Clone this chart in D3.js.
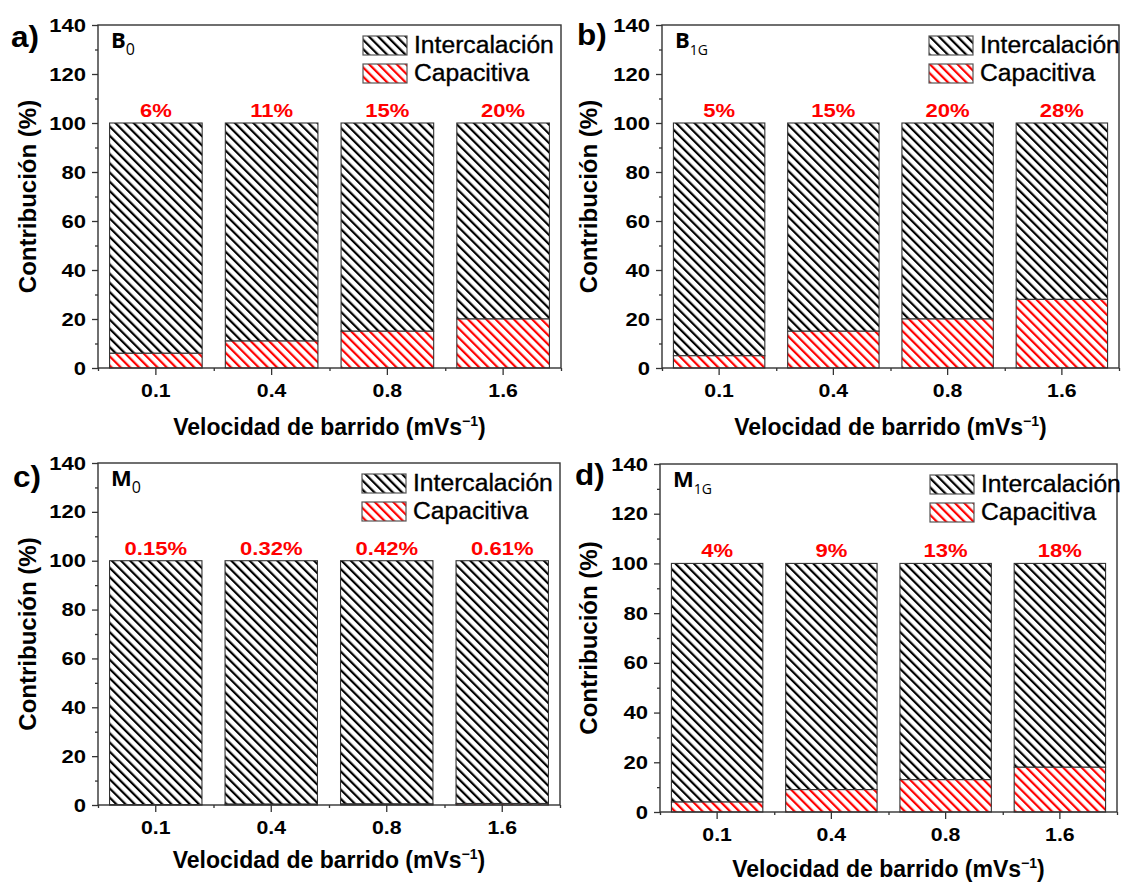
<!DOCTYPE html>
<html>
<head>
<meta charset="utf-8">
<script src="https://cdn.jsdelivr.net/npm/d3@7"></script>
<style>
  body { margin: 0; background: #fff; }
  svg { display: block; }
</style>
</head>
<body>
<script>
// ---- data ----
const rates = ["0.1", "0.4", "0.8", "1.6"];
const capB0  = [6, 11, 15, 20];
const capB1G = [5, 15, 20, 28];
const capM0  = [0.15, 0.32, 0.42, 0.61];
const capM1G = [4, 9, 13, 18];
const yTicks = [0, 20, 40, 60, 80, 100, 120, 140];
const yMinor = [10, 30, 50, 70, 90, 110, 130];
const seriesNames = ["Intercalación", "Capacitiva"];
const panelLetters = ["a)", "b)", "c)", "d)"];
const sampleBase = ["B", "B", "M", "M"];
const sampleSub = ["0", "1G", "0", "1G"];
const xTitle = "Velocidad de barrido (mVs";
const xTitleSup = "\u22121";
const yTitle = "Contribución (%)";
const total = 100;

// ---- layout ----
const W = 1125, H = 884;
const frames = [
  { x0: 98,  x1: 561,  y0: 25,  y1: 368, legX: 363, titleY: 435, yTitleX: 36,  letterX: 11,  letterY: 47,  cap: capB0 },
  { x0: 662, x1: 1119, y0: 25,  y1: 368, legX: 929, titleY: 435, yTitleX: 597, letterX: 577, letterY: 45,  cap: capB1G },
  { x0: 98,  x1: 560,  y0: 463, y1: 805, legX: 362, titleY: 868, yTitleX: 36,  letterX: 13,  letterY: 487, cap: capM0 },
  { x0: 660, x1: 1117, y0: 464, y1: 812, legX: 930, titleY: 877, yTitleX: 597, letterX: 575, letterY: 485, cap: capM1G }
];

const FONT = "'Liberation Sans', Arial, sans-serif";
const FRAME = "#333";
const RED = "#ff0000";

const svg = d3.select("body").append("svg").attr("width", W).attr("height", H);

// hatch patterns: diagonal stripes running top-left to bottom-right
const defs = svg.append("defs");
function hatch(id, color) {
  const p = defs.append("pattern")
    .attr("id", id)
    .attr("patternUnits", "userSpaceOnUse")
    .attr("width", 6.5).attr("height", 10)
    .attr("patternTransform", "rotate(-45)");
  p.append("rect").attr("width", 6.5).attr("height", 10).attr("fill", "#fff");
  p.append("rect").attr("x", 0).attr("width", 2.2).attr("height", 10).attr("fill", color);
}
hatch("hatchK", "#000");
hatch("hatchR", RED);

// horizontally stretched text helper
function label(g, x, y, str, o) {
  return g.append("text")
    .attr("transform", `translate(${x},${y}) scale(${o.sx || 1},1)`)
    .attr("text-anchor", o.anchor || "start")
    .style("font-family", o.family || FONT)
    .style("font-size", o.size + "px")
    .style("font-weight", o.weight || "bold")
    .attr("fill", o.fill || "#000")
    .attr("stroke", o.stroke || "none")
    .attr("stroke-width", o.strokeWidth || 0)
    .text(str);
}

frames.forEach((f, i) => {
  const g = svg.append("g");
  const x = d3.scaleBand().domain(rates).range([f.x0, f.x1]).paddingInner(0.2).paddingOuter(0.1);
  const y = d3.scaleLinear().domain([0, 140]).range([f.y1, f.y0]);
  const rows = rates.map((r, k) => ({ r, cap: f.cap[k] }));

  // stacked bars
  g.selectAll(".inter").data(rows).join("rect")
    .attr("x", d => x(d.r)).attr("width", x.bandwidth())
    .attr("y", y(total)).attr("height", d => y(d.cap) - y(total))
    .attr("fill", "url(#hatchK)").attr("stroke", FRAME).attr("stroke-width", 1.1);
  g.selectAll(".cap").data(rows).join("rect")
    .attr("x", d => x(d.r)).attr("width", x.bandwidth())
    .attr("y", d => y(d.cap)).attr("height", d => y(0) - y(d.cap))
    .attr("fill", "url(#hatchR)").attr("stroke", FRAME).attr("stroke-width", 1.1);

  // value labels
  rows.forEach(d => {
    label(g, x(d.r) + x.bandwidth() / 2, y(total) - 6, d.cap + "%",
      { size: 19, sx: 1.16, anchor: "middle", fill: RED });
  });

  // y axis
  const yAx = g.append("g").attr("transform", `translate(${f.x0},0)`)
    .call(d3.axisLeft(y).tickValues(yTicks).tickSize(6).tickPadding(6).tickSizeOuter(0));
  g.append("g").attr("transform", `translate(${f.x0},0)`)
    .call(d3.axisLeft(y).tickValues(yMinor).tickSize(3).tickFormat("").tickSizeOuter(0));

  // x axis: major ticks at bar centres, minor at band boundaries
  const xAx = g.append("g").attr("transform", `translate(0,${f.y1})`)
    .call(d3.axisBottom(x).tickSize(7).tickPadding(8.5).tickSizeOuter(0));
  const edge = d3.scaleLinear().domain([0, rates.length]).range([f.x0, f.x1]);
  g.append("g").attr("transform", `translate(0,${f.y1})`)
    .call(d3.axisBottom(edge).ticks(rates.length).tickSize(3).tickFormat("").tickSizeOuter(0));

  g.selectAll(".domain").remove();
  g.selectAll(".tick line").attr("stroke", FRAME).attr("stroke-width", 1.3);
  yAx.selectAll("text")
    .attr("x", -12 / 1.16).attr("transform", "scale(1.16,1)")
    .style("font-family", FONT).style("font-size", "19px").style("font-weight", "bold").attr("fill", "#000");
  xAx.selectAll("text")
    .attr("transform", "scale(1.12,1)").attr("x", 0)
    .style("font-family", FONT).style("font-size", "19px").style("font-weight", "bold").attr("fill", "#000");

  // frame
  g.append("rect")
    .attr("x", f.x0).attr("y", f.y0).attr("width", f.x1 - f.x0).attr("height", f.y1 - f.y0)
    .attr("fill", "none").attr("stroke", FRAME).attr("stroke-width", 1.4);

  // legend
  const legY = [f.y0 + 11, f.y0 + 39];
  const legFill = ["url(#hatchK)", "url(#hatchR)"];
  seriesNames.forEach((n, k) => {
    g.append("rect").attr("x", f.legX).attr("y", legY[k]).attr("width", 44).attr("height", 19)
      .attr("fill", legFill[k]).attr("stroke", "#555").attr("stroke-width", 1.2);
    label(g, f.legX + 51, legY[k] + 17, n,
      { size: 23.5, sx: 1.05, weight: "normal", stroke: "#000", strokeWidth: 0.35 });
  });

  // sample name with subscript
  const s = g.append("text")
    .attr("x", f.x0 + 13).attr("y", f.y0 + 23)
    .style("font-family", "'Open Sans', sans-serif").attr("fill", "#000");
  s.append("tspan").style("font-size", "22px").style("font-weight", "bold").text(sampleBase[i]);
  s.append("tspan").attr("dy", 7).style("font-size", sampleSub[i] === "0" ? "16px" : "14px")
    .style("font-weight", "normal").text(sampleSub[i]);

  // panel letter
  label(svg, f.letterX, f.letterY, panelLetters[i], { size: 30, sx: 1.05 });

  // axis titles
  const xt = g.append("text")
    .attr("x", (f.x0 + f.x1) / 2).attr("y", f.titleY)
    .attr("text-anchor", "middle")
    .style("font-family", FONT).style("font-size", "23px").style("font-weight", "bold").attr("fill", "#000");
  xt.append("tspan").text(xTitle);
  xt.append("tspan").attr("dy", -9).style("font-size", "14px").text(xTitleSup);
  xt.append("tspan").attr("dy", 9).text(")");

  g.append("text")
    .attr("transform", `translate(${f.yTitleX},${(f.y0 + f.y1) / 2}) rotate(-90)`)
    .attr("text-anchor", "middle")
    .style("font-family", FONT).style("font-size", "24px").style("font-weight", "bold").attr("fill", "#000")
    .text(yTitle);
});
</script>
</body>
</html>
